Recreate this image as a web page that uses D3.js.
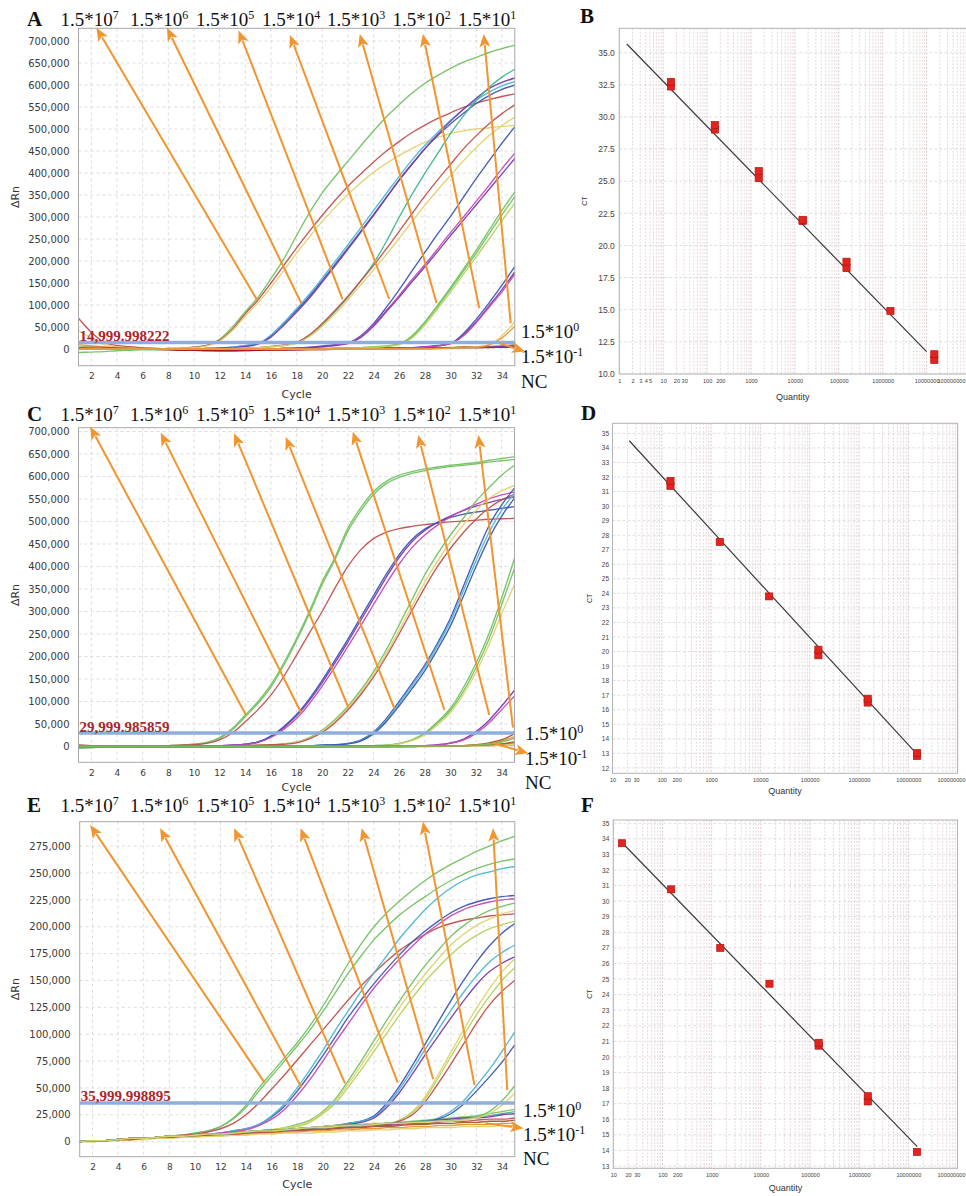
<!DOCTYPE html>
<html><head><meta charset="utf-8">
<script src="https://cdn.jsdelivr.net/npm/d3@7"></script>
<style>body{margin:0;background:#fff}svg{display:block}</style>
</head><body>
<svg id="c" width="966" height="1196"></svg>
<script>
// ---------------- DATA ----------------
const cycles = [1,2,3,4,5,6,7,8,9,10,11,12,13,14,15,16,17,18,19,20,21,22,23,24,25,26,27,28,29,30,31,32,33,34,35];
const concExp = ["7","6","5","4","3","2","1"];
const sideLabels = [["1.5*10","0"],["1.5*10","-1"],["NC",""]];
const cycleTicks = [2,4,6,8,10,12,14,16,18,20,22,24,26,28,30,32,34];
const ticksAC = [0,50,100,150,200,250,300,350,400,450,500,550,600,650,700];   // ΔRn in thousands
const ticksE = [0,25,50,75,100,125,150,175,200,225,250,275];
const thresholdA = 14999.998222, thresholdC = 29999.985859, thresholdE = 35999.998895;

// Panel A curves (ΔRn, thousands)
const A1g=[2,1,0,0,0,0,0,1,2,4,8,22,50,85,118,160,205,258,310,355,392,427,462,496,528,556,582,604,622,638,652,663,674,683,690];
const A1r=[3,2,1,0,0,0,0,1,2,4,8,20,45,80,112,150,190,230,268,304,338,370,398,425,450,472,492,509,524,537,549,559,567,574,580];
const A1y=[5,3,1,0,0,0,0,1,2,3,7,18,42,75,105,140,178,218,255,290,322,352,378,402,422,440,456,470,481,490,496,500,503,506,508];
const A2b=[3,2,1,0,0,0,0,0,0,0,1,2,4,7,12,30,58,88,120,156,193,230,268,306,345,385,420,455,485,512,536,558,576,590,600];
const A2c=[2,1,0,0,0,0,0,0,0,0,1,2,4,8,13,32,60,92,125,161,199,237,276,315,354,393,430,463,493,520,545,566,584,598,608];
const A2p=[1,1,0,0,0,0,0,0,0,0,1,2,3,6,11,27,54,84,116,152,189,227,265,304,344,384,421,456,488,518,545,570,592,606,616];
const A3t=[0,0,0,0,0,0,0,0,0,0,0,0,1,2,3,5,8,14,30,55,85,118,155,195,245,300,352,400,445,490,530,565,595,618,636];
const A3r=[0,0,0,0,0,0,0,0,0,0,0,0,1,2,3,6,9,15,32,58,88,120,155,190,228,268,308,348,385,420,455,485,512,535,555];
const A3y=[0,0,0,0,0,0,0,0,0,0,0,0,1,2,3,5,8,13,28,52,80,112,146,180,215,252,290,327,362,395,428,458,485,508,527];
const A4b=[0,0,0,0,0,0,0,0,0,0,0,0,0,0,0,0,1,2,4,7,10,14,30,58,95,135,178,220,262,302,345,388,428,468,505];
const A4m=[0,0,0,0,0,0,0,0,0,0,0,0,0,0,0,0,1,2,3,6,9,13,28,55,88,122,158,192,228,265,300,336,372,410,445];
const A4p=[0,0,0,0,0,0,0,0,0,0,0,0,0,0,0,0,1,2,3,5,8,12,26,52,85,118,153,187,222,258,293,328,363,398,433];
const A5g1=[0,0,0,0,0,0,0,0,0,0,0,0,0,0,0,0,0,0,0,0,1,2,3,5,7,12,30,62,100,140,182,225,270,315,357];
const A5g2=[0,0,0,0,0,0,0,0,0,0,0,0,0,0,0,0,0,0,0,0,1,2,3,4,6,11,28,60,97,136,177,218,262,305,346];
const A5y=[0,0,0,0,0,0,0,0,0,0,0,0,0,0,0,0,0,0,0,0,1,2,3,4,6,10,25,55,92,130,170,210,250,292,331];
const A6b=[0,0,0,0,0,0,0,0,0,0,0,0,0,0,0,0,0,0,0,0,0,0,0,0,1,2,3,5,8,13,35,68,105,145,187];
const A6p=[0,0,0,0,0,0,0,0,0,0,0,0,0,0,0,0,0,0,0,0,0,0,0,0,1,2,3,4,7,12,32,62,98,135,175];
const A6m=[0,0,0,0,0,0,0,0,0,0,0,0,0,0,0,0,0,0,0,0,0,0,0,0,1,2,3,4,7,12,30,60,95,130,170];
const A7y=[0,0,0,0,0,0,0,0,0,0,0,0,0,0,0,0,0,0,0,0,0,0,0,0,0,0,0,0,1,2,3,5,10,30,62];
const A7o=[0,0,0,0,0,0,0,0,0,0,0,0,0,0,0,0,0,0,0,0,0,0,0,0,0,0,0,0,1,2,3,4,9,25,52];
const A0r=[70,38,15,8,5,3,1,0,-2,-3,-3,-4,-4,-4,-3,-3,-3,-2,-2,-2,-1,-1,0,0,0,1,1,2,2,3,3,4,4,5,5];
const A0y=[42,25,10,5,2,0,-1,-2,-2,-2,-2,-2,-1,-1,-1,0,0,0,0,1,1,1,1,2,2,2,3,3,3,4,4,5,5,6,6];
const A0g=[-8,-7,-6,-4,-3,-2,-2,-1,-1,-1,0,0,0,0,0,0,1,1,1,1,1,2,2,2,2,2,3,3,3,3,4,4,4,5,5];
const A0o=[10,7,5,3,2,1,1,0,0,0,0,-1,-1,-1,-1,-1,0,0,0,0,1,1,1,1,2,2,2,3,3,3,4,4,5,6,8];
const A0b=[5,4,3,2,1,0,0,-1,-1,-2,-2,-2,-2,-2,-1,-1,-1,0,0,0,0,1,1,1,1,2,2,2,3,3,4,4,5,7,9];
const A0d=[2,2,1,1,0,0,-1,-2,-3,-3,-4,-4,-4,-3,-3,-2,-2,-2,-1,-1,0,0,0,1,1,1,1,2,2,2,3,3,3,4,4];
const A0p=[0,0,0,0,0,0,0,-1,-1,-1,-1,-1,-1,0,0,0,0,0,0,0,1,1,1,1,1,1,2,2,2,2,3,3,4,5,6];

// Panel C curves
const C1g1=[2,1,1,1,1,1,1,2,3,5,9,20,40,70,100,137,185,240,300,366,420,485,530,566,589,603,611,617,621,625,628,631,636,640,644];
const C1g2=[1,1,1,1,1,1,1,2,3,5,8,18,37,66,96,132,180,235,295,360,415,478,523,560,584,598,607,613,618,622,625,628,632,635,638];
const C1r=[3,2,1,1,1,1,1,2,3,4,7,15,30,55,82,114,155,203,252,300,352,400,437,462,476,484,489,493,496,499,501,503,505,506,507];
const C2p1=[1,1,1,1,1,1,1,1,1,1,2,2,3,5,10,22,42,68,102,142,186,232,280,328,376,420,455,480,498,512,524,534,542,549,555];
const C2p2=[1,1,1,1,1,1,1,1,1,1,2,2,3,5,10,23,44,71,106,147,192,238,287,335,383,426,460,483,498,509,516,521,525,529,533];
const C2m=[1,1,1,1,1,1,1,1,1,1,1,2,3,4,9,20,38,62,95,134,177,222,268,315,362,405,442,470,492,510,525,538,550,559,566];
const C3g=[1,1,1,1,1,1,1,1,1,1,1,1,2,2,3,4,6,10,20,36,60,89,125,166,215,270,326,381,428,470,507,545,575,603,625];
const C3y=[1,1,1,1,1,1,1,1,1,1,1,1,2,2,3,4,6,9,18,33,56,85,120,160,207,258,312,365,412,455,492,525,551,568,580];
const C3o=[1,1,1,1,1,1,1,1,1,1,1,1,2,2,3,4,5,8,17,31,53,81,115,154,200,250,302,353,400,440,475,505,530,548,560];
const C4b=[0,0,0,0,0,0,0,0,1,1,1,1,1,1,1,1,1,2,2,3,4,7,14,32,62,100,140,181,230,285,355,425,490,537,574];
const C4c=[0,0,0,0,0,0,0,0,1,1,1,1,1,1,1,1,1,2,2,3,4,6,13,30,58,95,134,175,224,278,345,413,475,525,563];
const C4b2=[0,0,0,0,0,0,0,0,1,1,1,1,1,1,1,1,1,2,2,3,4,6,12,28,55,90,128,168,216,268,333,400,462,512,552];
const C5g1=[0,0,0,0,0,0,0,0,0,0,0,0,0,0,0,0,0,1,1,1,1,1,1,2,3,7,15,30,55,85,130,185,250,330,418];
const C5g2=[0,0,0,0,0,0,0,0,0,0,0,0,0,0,0,0,0,1,1,1,1,1,1,2,3,6,14,28,52,80,122,175,238,315,396];
const C5y=[0,0,0,0,0,0,0,0,0,0,0,0,0,0,0,0,0,1,1,1,1,1,1,2,2,6,13,26,48,75,115,165,225,295,360];
const C6p=[0,0,0,0,0,0,0,0,0,0,0,0,0,0,0,0,0,0,0,0,1,1,1,1,1,1,1,2,4,8,16,33,58,90,125];
const C6m=[0,0,0,0,0,0,0,0,0,0,0,0,0,0,0,0,0,0,0,0,1,1,1,1,1,1,1,2,3,7,14,29,52,82,112];
const C7br=[0,0,0,0,0,0,0,0,0,0,0,0,0,0,0,0,0,0,0,0,0,0,0,0,0,1,1,1,1,1,2,4,8,15,28];
const C7o=[0,0,0,0,0,0,0,0,0,0,0,0,0,0,0,0,0,0,0,0,0,0,0,0,0,1,1,1,1,1,2,3,6,12,22];
const C7g=[0,0,0,0,0,0,0,0,0,0,0,0,0,0,0,0,0,0,0,0,0,0,0,0,0,0,1,1,1,1,1,3,5,10,18];
const C0r=[3,2,1,1,1,0,0,0,0,0,0,0,0,0,0,0,0,0,0,0,0,0,0,0,0,0,0,1,1,1,1,2,2,3,4];
const C0g=[-4,-3,-1,0,0,0,0,0,0,0,0,0,0,0,0,0,0,0,0,0,0,0,0,0,0,0,0,0,1,1,1,2,3,4,6];
const C0o=[2,1,1,0,0,0,0,0,0,0,0,0,0,0,0,0,0,0,0,0,0,0,0,0,0,0,1,1,1,1,2,2,4,5,8];
const C0y=[1,1,0,0,0,0,0,0,0,0,0,0,0,0,0,0,0,0,0,0,0,0,0,0,0,0,0,0,0,1,1,1,2,3,5];
const C0b=[0,0,0,0,0,0,0,0,0,0,0,0,0,0,0,0,0,0,0,0,0,0,0,0,0,0,0,1,1,1,2,3,4,6,10];

// Panel E curves
const E1g1=[0,1,1,2,3,3,4,5,6,8,10,14,22,34,50,64,78,92,108,126,146,166,184,200,213,224,234,243,251,258,264,270,275,280,284];
const E1g2=[0,1,1,2,3,3,4,5,6,8,10,14,21,32,47,61,75,89,104,121,139,157,173,188,200,211,220,228,236,243,249,254,258,261,263];
const E1r=[0,1,1,2,3,3,4,5,6,7,9,12,17,25,36,49,62,76,90,104,118,132,145,157,168,178,186,193,199,203,206,208,210,211,212];
const E2b=[0,1,1,2,3,3,4,5,5,6,7,8,10,12,16,23,33,47,63,80,98,116,132,147,161,174,186,196,205,213,219,223,226,228,229];
const E2c=[0,1,1,2,3,3,4,5,5,6,7,8,10,12,16,24,35,50,67,85,104,122,140,157,173,189,203,216,227,236,243,248,251,254,256];
const E2m=[0,1,1,2,3,3,4,5,5,6,7,8,9,11,15,21,30,43,58,75,93,110,127,143,157,170,182,193,202,210,216,220,223,225,226];
const E3g=[0,1,1,2,3,3,4,5,5,6,7,7,8,9,10,11,13,16,20,28,40,57,75,94,113,131,148,164,178,191,201,209,215,219,222];
const E3y=[0,1,1,2,3,3,4,5,5,6,7,7,8,9,10,11,13,15,19,27,38,54,71,89,107,125,141,156,170,183,193,201,207,212,215];
const E3l=[0,1,1,2,3,3,4,5,5,6,7,7,8,9,10,11,12,14,18,26,36,51,67,84,101,118,134,149,162,174,184,192,198,202,205];
const E4b=[0,1,1,2,3,3,4,5,5,6,7,7,8,9,10,11,11,12,13,14,15,17,19,24,36,52,71,91,111,131,150,167,182,194,203];
const E4c=[0,1,1,2,3,3,4,5,5,6,7,7,8,9,10,11,11,12,13,14,15,17,19,23,34,49,67,86,104,122,139,154,167,176,183];
const E4p=[0,1,1,2,3,3,4,5,5,6,7,7,8,9,10,10,11,12,13,14,15,16,18,22,32,46,63,81,98,115,131,146,158,166,172];
const E5y=[0,1,1,2,3,3,4,5,5,6,7,7,8,9,10,10,11,12,13,14,15,15,16,17,17,20,28,42,62,83,104,124,142,158,170];
const E5g=[0,1,1,2,3,3,4,5,5,6,7,7,8,9,10,10,11,12,13,14,15,15,16,17,17,20,27,40,59,79,99,118,135,150,162];
const E5r=[0,1,1,2,2,3,4,4,5,6,6,7,7,8,9,9,10,11,11,12,13,13,14,15,16,19,25,37,54,72,91,110,127,140,150];
const E6c=[0,1,1,2,3,3,4,5,5,6,7,7,8,9,10,10,11,12,13,13,14,15,15,16,17,17,18,19,22,28,38,52,67,84,102];
const E6b=[0,1,1,2,3,3,4,5,5,6,7,7,8,9,10,10,11,12,13,13,14,15,15,16,17,17,18,19,21,26,35,47,60,74,90];
const E7g=[0,1,1,2,3,3,4,5,5,6,7,7,8,9,10,10,11,12,13,13,14,15,15,16,17,17,18,19,19,20,21,23,28,38,52];
const E7y=[0,1,1,2,3,3,4,5,5,6,7,7,8,9,10,10,11,12,13,13,14,15,15,16,17,17,18,18,19,19,20,22,26,34,45];
const E0g=[0,1,1,2,3,3,4,5,5,6,7,7,8,9,10,10,11,12,12,13,14,15,15,16,17,18,19,20,21,22,23,24,26,28,30];
const E0t=[0,1,1,2,3,3,4,5,5,6,7,7,8,9,10,10,11,12,12,13,14,14,15,16,17,17,18,19,20,21,22,23,24,26,28];
const E0r=[0,1,1,2,2,3,4,4,5,6,6,7,7,8,9,9,10,11,11,12,13,13,14,15,15,16,17,17,18,19,19,20,21,21,22];
const E0b=[0,1,1,2,2,3,3,4,5,5,6,6,7,8,8,9,10,10,11,11,12,13,13,14,14,15,16,16,17,17,18,18,19,19,20];
const E0o=[0,0,1,1,2,3,3,4,4,5,5,6,7,7,8,8,9,9,10,10,11,11,12,12,13,13,14,14,15,15,16,16,16,17,17];
const E0y=[0,0,1,1,2,2,3,3,4,4,5,5,6,6,7,7,8,8,8,9,9,10,10,11,11,12,12,13,13,13,14,14,14,15,15];
const E0p=[0,1,1,2,3,3,4,5,5,6,7,7,8,9,9,10,11,11,12,13,13,14,15,16,16,17,18,19,20,21,22,22,23,25,26];

// Annotation arrows: [tipCycle, tipValue(k), tailCycle, tailValue(k)]
const arrowsA=[[2.40,730,14.87,113.6],[7.90,730,18.36,103.9],[13.48,724,21.58,113],[17.48,714,25.21,113.6],[22.92,716,28.91,104],[27.84,716,32.23,92.5],[32.58,716,34.68,58.4]];
const sideArrowA=[35.8,-6,33.8,13];
const arrowsC=[[1.91,710.7,14.08,68.9],[7.41,697,18.38,73.8],[13.13,696,22.03,87.8],[17.16,688,25.63,84.9],[22.39,699.6,29.53,81.1],[27.49,692,33.03,70],[32.19,692,34.88,42.2]];
const sideArrowC=[36.07,-15.1,33.38,7.1];
const arrowsE=[[1.82,294.6,15.44,54.9],[7.28,291.5,18.32,50.6],[13.07,291.5,21.73,54.3],[18.26,291.5,25.85,54.9],[23.03,291.5,28.62,58],[27.82,297.7,31.85,52.7],[33.3,291.5,34.41,48.1]];
const sideArrowE=[35.67,12.5,32.71,17.1];

// Standard curves
const qtyB=[15,150,1500,15000,150000,1500000,15000000];
const ctB=[[32.37,32.73],[29.02,29.38],[25.24,25.79],[21.9,22.0],[18.24,18.74],[14.91],[11.1,11.54]];
const fitB=[[1.48,35.68],[1.0e7,11.74]];
const qtyD=[150,1500,15000,150000,1500000,15000000];
const ctD=[[31.39,31.73],[27.54],[23.79],[19.74,20.13],[16.49,16.76],[12.82,13.03]];
const fitD=[[21.9,34.49],[1.26e7,13.22]];
const qtyF=[15,150,1500,15000,150000,1500000,15000000];
const ctF=[[33.72],[30.76],[27.0],[24.7],[20.72,20.91],[17.14,17.48],[13.9]];
const fitF=[[15.5,33.72],[1.52e7,14.24]];
const qTicksB=[1,2,3,4,5,10,20,30,100,200,1000,10000,100000,1000000,10000000,100000000];
const qTicksDF=[10,20,30,100,200,1000,10000,100000,1000000,10000000,100000000];
const ctTicksB=[10,12.5,15,17.5,20,22.5,25,27.5,30,32.5,35];
const ctTicksD=[12,13,14,15,16,17,18,19,20,21,22,23,24,25,26,27,28,29,30,31,32,33,34,35];
const ctTicksF=[13,14,15,16,17,18,19,20,21,22,23,24,25,26,27,28,29,30,31,32,33,34,35];

// ---------------- STYLE ----------------
const COL={green:"#72c162",red:"#c0504d",yellow:"#e2d26e",blue:"#3c55b4",cyan:"#4cb6cf",purple:"#7a3ab0",
  magenta:"#c548b5",teal:"#3fb58e",orange:"#eb8f2e",lime:"#b3d45a",brown:"#9c5a2c",darkred:"#a01818"};
const ORANGE="#f0952f";
const seriesA=[[A0r,"red"],[A0y,"yellow"],[A0g,"green"],[A0o,"orange"],[A0b,"brown"],[A0d,"darkred"],[A0p,"purple"],
 [A1g,"green"],[A1r,"red"],[A1y,"yellow"],[A2b,"blue"],[A2c,"cyan"],[A2p,"purple"],[A3t,"teal"],[A3r,"red"],[A3y,"yellow"],
 [A4b,"blue"],[A4m,"magenta"],[A4p,"purple"],[A5g1,"green"],[A5g2,"green"],[A5y,"lime"],[A6b,"blue"],[A6p,"purple"],[A6m,"magenta"],[A7y,"yellow"],[A7o,"orange"]];
const seriesC=[[C0r,"red"],[C0g,"green"],[C0o,"orange"],[C0y,"yellow"],[C0b,"brown"],
 [C1g1,"green"],[C1g2,"green"],[C1r,"red"],[C2p1,"purple"],[C2p2,"blue"],[C2m,"magenta"],[C3g,"green"],[C3y,"yellow"],[C3o,"red"],
 [C4b,"blue"],[C4c,"cyan"],[C4b2,"blue"],[C5g1,"green"],[C5g2,"green"],[C5y,"yellow"],[C6p,"purple"],[C6m,"magenta"],[C7br,"brown"],[C7o,"orange"],[C7g,"green"]];
const seriesE=[[E0g,"green"],[E0t,"teal"],[E0r,"red"],[E0b,"brown"],[E0o,"orange"],[E0y,"yellow"],[E0p,"purple"],
 [E1g1,"green"],[E1g2,"green"],[E1r,"red"],[E2b,"blue"],[E2c,"cyan"],[E2m,"magenta"],[E3g,"green"],[E3y,"yellow"],[E3l,"lime"],
 [E4b,"blue"],[E4c,"cyan"],[E4p,"purple"],[E5y,"yellow"],[E5g,"lime"],[E5r,"red"],[E6c,"cyan"],[E6b,"blue"],[E7g,"green"],[E7y,"yellow"]];

const svg=d3.select("#c");
svg.append("rect").attr("width",966).attr("height",1196).attr("fill","#fff");

function arrow(g,xs,ys,xt,yt){ // tail -> tip
  const a=Math.atan2(yt-ys,xt-xs), L=13, W=5.5;
  const bx=xt-L*Math.cos(a), by=yt-L*Math.sin(a);
  g.append("line").attr("x1",xs).attr("y1",ys).attr("x2",bx+2*Math.cos(a)).attr("y2",by+2*Math.sin(a))
   .attr("stroke",ORANGE).attr("stroke-width",2);
  g.append("path").attr("d",`M${xt},${yt}L${bx+W*Math.sin(a)},${by-W*Math.cos(a)}L${bx+3*Math.cos(a)},${by+3*Math.sin(a)}L${bx-W*Math.sin(a)},${by+W*Math.cos(a)}Z`)
   .attr("fill",ORANGE);
}
function supText(g,x,y,base,exp,anchor){
  const t=g.append("text").attr("x",x).attr("y",y).attr("text-anchor",anchor)
   .attr("font-family","Liberation Serif").attr("font-size",19).attr("fill","#111");
  t.append("tspan").text(base);
  if(exp) t.append("tspan").attr("dy",-7).attr("font-size",12).text(exp);
}
function letter(x,y,s){
  svg.append("text").attr("x",x).attr("y",y).attr("font-family","Liberation Serif").attr("font-weight","bold")
   .attr("font-size",21).attr("fill","#111").text(s);
}

function drawAmp(p){
  const g=svg.append("g");
  const x=d3.scaleLinear().domain([1,35]).range([p.x0,p.x1]);
  const y=d3.scaleLinear().domain(p.yDom).range([p.y1,p.y0]);
  g.append("g").selectAll("line").data(cycleTicks).join("line")
   .attr("x1",d=>x(d)).attr("x2",d=>x(d)).attr("y1",p.y0).attr("y2",p.y1)
   .attr("stroke","#d4d4d4").attr("stroke-width",0.8).attr("stroke-dasharray","3,3");
  g.append("g").selectAll("line").data(p.yTicks).join("line")
   .attr("x1",p.x0).attr("x2",p.x1).attr("y1",d=>y(d)).attr("y2",d=>y(d))
   .attr("stroke","#d4d4d4").attr("stroke-width",0.8).attr("stroke-dasharray","3,3");
  const ya=g.append("g").attr("transform",`translate(${p.x0},0)`)
   .call(d3.axisLeft(y).tickValues(p.yTicks).tickSize(0).tickPadding(9).tickFormat(d=>d3.format(",")(d*1000)));
  ya.select(".domain").remove();
  ya.selectAll("text").attr("font-family","DejaVu Sans").attr("font-size",10).attr("fill","#3a3a3a");
  const xa=g.append("g").attr("transform",`translate(0,${p.y1})`)
   .call(d3.axisBottom(x).tickValues(cycleTicks).tickSize(0).tickPadding(7).tickFormat(d3.format("d")));
  xa.select(".domain").remove();
  xa.selectAll("text").attr("font-family","DejaVu Sans").attr("font-size",9).attr("fill","#3a3a3a");
  g.append("text").attr("x",(p.x0+p.x1)/2).attr("y",p.y1+p.cycDy).attr("text-anchor","middle")
   .attr("font-family","DejaVu Sans").attr("font-size",11).attr("fill","#333").text("Cycle");
  g.append("text").attr("transform",`translate(19,${(p.y0+p.y1)/2}) rotate(-90)`).attr("text-anchor","middle")
   .attr("font-family","DejaVu Sans").attr("font-size",11).attr("fill","#333").text("ΔRn");
  const line=d3.line().x((d,i)=>x(cycles[i])).y(d=>y(d)).curve(d3.curveMonotoneX);
  g.append("g").selectAll("path").data(p.series).join("path")
   .attr("d",d=>line(d[0])).attr("fill","none").attr("stroke",d=>COL[d[1]]).attr("stroke-width",1.35).attr("stroke-opacity",0.95);
  const ty=y(p.thr/1000);
  g.append("line").attr("x1",p.x0).attr("x2",p.x1).attr("y1",ty).attr("y2",ty).attr("stroke","#8eaedc").attr("stroke-width",3.5);
  g.append("text").attr("x",p.x0+1).attr("y",ty-1.5).attr("font-family","Liberation Serif").attr("font-size",15)
   .attr("font-weight","bold").attr("fill","#a8262c").text(d3.format(",.6f")(p.thr));
  g.append("rect").attr("x",p.x0).attr("y",p.y0).attr("width",p.x1-p.x0).attr("height",p.y1-p.y0)
   .attr("fill","none").attr("stroke","#a8a8a8").attr("stroke-width",1);
  p.labelX.forEach((lx,i)=>supText(g,lx,p.labelY,"1.5*10",concExp[i],"middle"));
  p.sideY.forEach((sy,i)=>supText(g,p.sideX,sy,sideLabels[i][0],sideLabels[i][1],"start"));
  p.arrows.forEach(a=>arrow(g,x(a[2]),y(a[3]),x(a[0]),y(a[1])));
  arrow(g,x(p.side[2]),y(p.side[3]),x(p.side[0]),y(p.side[1]));
}

function drawStd(p){
  const g=svg.append("g");
  const x=d3.scaleLog().domain(p.xDom).range([p.x0,p.x1]);
  const y=d3.scaleLinear().domain(p.yDom).range([p.y1,p.y0]);
  const minors=[];
  for(let e=Math.round(Math.log10(p.xDom[0]));e<8;e++) for(let k=1;k<10;k++) minors.push(k*Math.pow(10,e));
  minors.push(1e8);
  g.append("g").selectAll("line").data(minors).join("line")
   .attr("x1",d=>x(d)).attr("x2",d=>x(d)).attr("y1",p.y0).attr("y2",p.y1)
   .attr("stroke",d=>Math.abs(Math.log10(d)%1)<1e-9?"#c9b6b6":"#dcc9c9").attr("stroke-width",0.7).attr("stroke-dasharray","2,1.5");
  g.append("g").selectAll("line").data(p.yTicks).join("line")
   .attr("x1",p.x0).attr("x2",p.x1).attr("y1",d=>y(d)).attr("y2",d=>y(d))
   .attr("stroke","#d2d2d2").attr("stroke-width",0.7).attr("stroke-dasharray","3,2");
  const ya=g.append("g").attr("transform",`translate(${p.x0},0)`)
   .call(d3.axisLeft(y).tickValues(p.yTicks).tickSize(0).tickPadding(p.yPad).tickFormat(d3.format(p.yFmt)));
  ya.select(".domain").remove();
  ya.selectAll("text").attr("font-family","Liberation Sans").attr("font-size",p.yFont).attr("fill","#444");
  const xa=g.append("g").attr("transform",`translate(0,${p.y1})`)
   .call(d3.axisBottom(x).tickValues(p.xTicks).tickSize(0).tickPadding(5).tickFormat(d3.format("d")));
  xa.select(".domain").remove();
  xa.selectAll("text").attr("font-family","Liberation Sans").attr("font-size",5.6).attr("fill","#444");
  // keep the last quantity label inside the 966px page
  xa.selectAll(".tick").each(function(d){
    const t=d3.select(this).select("text"), w=this.getBBox().width;
    if(x(d)+w/2>965){ t.attr("text-anchor","end").attr("x",965-x(d)); }
  });
  g.append("text").attr("x",(p.x0+Math.min(p.x1,966))/2).attr("y",p.y1+p.qDy).attr("text-anchor","middle")
   .attr("font-family","Liberation Sans").attr("font-size",9).attr("fill","#333").text("Quantity");
  g.append("text").attr("transform",`translate(${p.ctX},${(p.y0+p.y1)/2}) rotate(-90)`).attr("text-anchor","middle")
   .attr("font-family","Liberation Sans").attr("font-size",7).attr("fill","#333").text("CT");
  g.append("rect").attr("x",p.x0).attr("y",p.y0).attr("width",p.x1-p.x0).attr("height",p.y1-p.y0)
   .attr("fill","none").attr("stroke","#b3b3b3").attr("stroke-width",1);
  g.append("line").attr("x1",x(p.fit[0][0])).attr("y1",y(p.fit[0][1])).attr("x2",x(p.fit[1][0])).attr("y2",y(p.fit[1][1]))
   .attr("stroke","#3a3a3a").attr("stroke-width",1.2);
  const pts=[]; p.qty.forEach((q,i)=>p.ct[i].forEach(c=>pts.push([q,c])));
  g.append("g").selectAll("rect").data(pts).join("rect")
   .attr("x",d=>x(d[0])-3.6).attr("y",d=>y(d[1])-3.5).attr("width",7.2).attr("height",7)
   .attr("fill","#e3241d").attr("stroke","#b31414").attr("stroke-width",0.7);
}

drawAmp({x0:78.5,x1:514.8,y0:28.3,y1:365.7,yDom:[-38,729],yTicks:ticksAC,series:seriesA,thr:thresholdA,cycDy:32,
  labelX:[89.5,159,225,291,356,421.5,487],labelY:26,sideX:521,sideY:[338,363,388],arrows:arrowsA,side:sideArrowA});
drawAmp({x0:78.5,x1:514.5,y0:427.7,y1:762.3,yDom:[-35.1,708.4],yTicks:ticksAC,series:seriesC,thr:thresholdC,cycDy:29,
  labelX:[89.5,159,225,291,356,421.5,487],labelY:420.7,sideX:525,sideY:[740,765,789],arrows:arrowsC,side:sideArrowC});
drawAmp({x0:79.7,x1:514.8,y0:821.7,y1:1156.7,yDom:[-14,297.7],yTicks:ticksE,series:seriesE,thr:thresholdE,cycDy:31,
  labelX:[89.5,159,225,291,356,421.5,487],labelY:812,sideX:523,sideY:[1117,1141,1165],arrows:arrowsE,side:sideArrowE});

drawStd({x0:619.3,x1:970.5,y0:28.3,y1:374,xDom:[1,1e8],yDom:[10,36.9],yTicks:ctTicksB,yFmt:".1f",yPad:4.5,yFont:8.5,
  xTicks:qTicksB,qty:qtyB,ct:ctB,fit:fitB,qDy:25.5,ctX:587});
drawStd({x0:612.5,x1:957.6,y0:423.3,y1:773.3,xDom:[10,1e8],yDom:[11.63,35.69],yTicks:ctTicksD,yFmt:"d",yPad:3.5,yFont:6.5,
  xTicks:qTicksDF,qty:qtyD,ct:ctD,fit:fitD,qDy:21,ctX:592});
drawStd({x0:613.3,x1:957.5,y0:820,y1:1168.3,xDom:[10,1e8],yDom:[12.85,35.21],yTicks:ctTicksF,yFmt:"d",yPad:4,yFont:6.5,
  xTicks:qTicksDF,qty:qtyF,ct:ctF,fit:fitF,qDy:23,ctX:592});

letter(27,26,"A"); letter(580,23,"B"); letter(27,421,"C"); letter(581,420,"D"); letter(27,812,"E"); letter(581,812,"F");
</script>
</body></html>
